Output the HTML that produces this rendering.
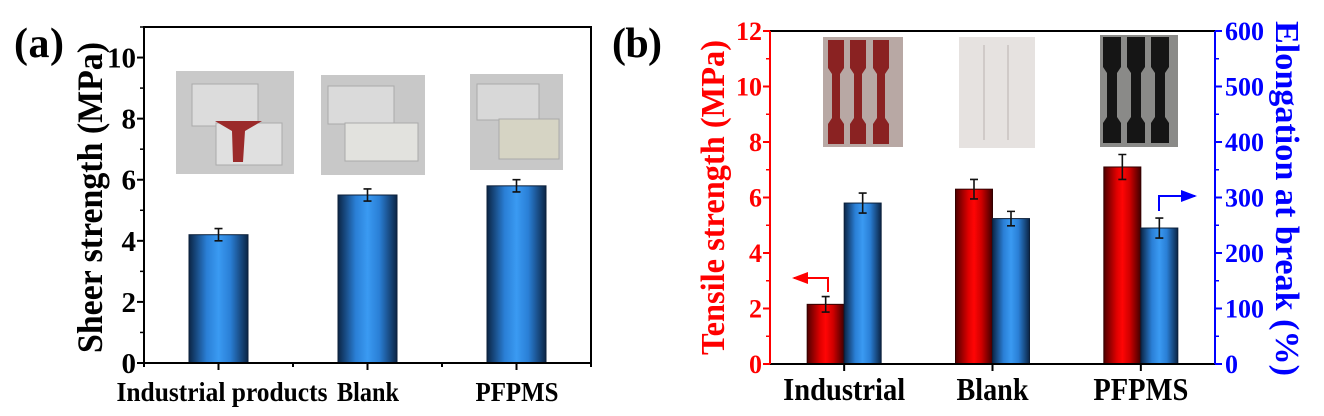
<!DOCTYPE html>
<html><head><meta charset="utf-8">
<style>
html,body{margin:0;padding:0;background:#fff;}
svg{display:block;}
text{font-family:"Liberation Serif",serif;font-weight:bold;}
</style></head>
<body>
<svg id="fig" width="1324" height="416" viewBox="0 0 1324 416" xmlns="http://www.w3.org/2000/svg">
<defs>
<linearGradient id="gBlue" x1="0" x2="1" y1="0" y2="0">
<stop offset="0" stop-color="#0b2546"/><stop offset="0.3" stop-color="#2a7fd6"/><stop offset="0.5" stop-color="#3a9af2"/><stop offset="0.7" stop-color="#2a7fd6"/><stop offset="1" stop-color="#0b2546"/>
</linearGradient>
<linearGradient id="gRed" x1="0" x2="1" y1="0" y2="0">
<stop offset="0" stop-color="#500000"/><stop offset="0.35" stop-color="#e00000"/><stop offset="0.5" stop-color="#ff0505"/><stop offset="0.7" stop-color="#d00000"/><stop offset="1" stop-color="#400000"/>
</linearGradient>
<marker id="arR" markerWidth="8" markerHeight="8" refX="7" refY="4" orient="auto"><path d="M0,1 L8,4 L0,7 Z" fill="#f00"/></marker>
<marker id="arB" markerWidth="8" markerHeight="8" refX="7" refY="4" orient="auto"><path d="M0,1 L8,4 L0,7 Z" fill="#00f"/></marker>
</defs>

<text x="14" y="57" font-size="42" textLength="50">(a)</text>
<g>
<rect x="176" y="71" width="118" height="103" fill="#c9c9c9"/>
<rect x="192" y="84" width="66" height="42" fill="#dcdcdc" stroke="#aaa"/>
<rect x="216" y="123" width="66" height="42" fill="#e0e0e0" stroke="#aaa"/>
<path d="M215,121 L262,121 L245,131 L243,162 L233,162 L232,131 Z" fill="#9b2a2a"/>
</g>
<g>
<rect x="321" y="75" width="104" height="100" fill="#c8c8c8"/>
<rect x="328" y="86" width="66" height="38" fill="#dadada" stroke="#aaa"/>
<rect x="345" y="123" width="73" height="38" fill="#e2e2de" stroke="#aaa"/>
</g>
<g>
<rect x="470" y="74" width="93" height="96" fill="#c8c8c8"/>
<rect x="477" y="84" width="62" height="36" fill="#d8d8d8" stroke="#aaa"/>
<rect x="499" y="119" width="60" height="40" fill="#d6d4c4" stroke="#aaa"/>
</g>
<g id="plotA"></g>

<text x="612" y="57" font-size="42" textLength="50">(b)</text>
<g>
<rect x="823" y="37" width="80" height="110" fill="#b8a8a4"/>
<path d="M828,40h16v28l-4,6v44l4,6v20h-16v-20l4,-6v-44l-4,-6z M850,40h16v28l-4,6v44l4,6v20h-16v-20l4,-6v-44l-4,-6z M873,40h16v28l-4,6v44l4,6v20h-16v-20l4,-6v-44l-4,-6z" fill="#8a2222"/>
</g>
<g>
<rect x="959" y="37" width="76" height="111" fill="#e6e2e0"/>
<path d="M984,45v95 M1008,45v95" stroke="#c8c2c0" stroke-width="1.5"/>
</g>
<g>
<rect x="1100" y="35" width="78" height="112" fill="#8a8a88"/>
<path d="M1103,37h18v30l-4,6v44l4,6v20h-18v-20l4,-6v-44l-4,-6z M1127,37h18v30l-4,6v44l4,6v20h-18v-20l4,-6v-44l-4,-6z M1151,37h18v30l-4,6v44l4,6v20h-18v-20l4,-6v-44l-4,-6z" fill="#151515"/>
</g>
<g id="plotB"></g>
</svg>

<script>
// ---- Panel a data ----
const catsA = ["Industrial products", "Blank", "PFPMS"];
const shearVals = [4.2, 5.5, 5.8];
const shearErr = [0.2, 0.2, 0.2];
const ticksA = [0, 2, 4, 6, 8, 10];

// ---- Panel b data ----
const catsB = ["Industrial", "Blank", "PFPMS"];
const tensileVals = [2.15, 6.3, 7.1];
const tensileErr = [0.28, 0.35, 0.45];
const elongVals = [290, 262, 245];
const elongErr = [18, 13, 18];
const ticksBL = [0, 2, 4, 6, 8, 10, 12];
const ticksBR = [0, 100, 200, 300, 400, 500, 600];

const NS = "http://www.w3.org/2000/svg";
function mk(tag, attrs, parent, txt) {
  const e = document.createElementNS(NS, tag);
  for (const k in attrs) e.setAttribute(k, attrs[k]);
  if (txt !== undefined) e.textContent = txt;
  parent.appendChild(e);
  return e;
}
function errBar(g, x, y1, y2, color) {
  const e = mk("path", {d: `M${x},${y1}V${y2}M${x-4},${y1}H${x+4}M${x-4},${y2}H${x+4}`, stroke: color, "stroke-width": 1.6, fill: "none"}, g);
  
  
}

// ---- Plot A ----
(function () {
  const g = document.getElementById("plotA");
  const L = 144, R = 591, T = 27, B = 363, yMax = 11;
  const y = v => B - v / yMax * (B - T);
  const step = (R - L) / catsA.length;
  const xc = i => L + step * (i + 0.5);
  const bw = 59;
  catsA.forEach((c, i) => {
    const r = mk("rect", {x: xc(i) - bw / 2, y: y(shearVals[i]), width: bw, height: B - y(shearVals[i]), fill: "url(#gBlue)", stroke: "#0b1f3a", "stroke-width": 1}, g);
    
    
    errBar(g, xc(i), y(shearVals[i] + shearErr[i]), y(shearVals[i] - shearErr[i]), "#111");
  });
  const ax = mk("rect", {x: L, y: T, width: R - L, height: B - T, fill: "none", stroke: "#000", "stroke-width": 2}, g);
  
  
  ticksA.forEach(t => {
    mk("line", {x1: L - 7, x2: L, y1: y(t), y2: y(t), stroke: "#000", "stroke-width": 2}, g);
    mk("line", {x1: L - 4, x2: L, y1: y(t + 1), y2: y(t + 1), stroke: "#000", "stroke-width": 1.5}, g);
    const tl = mk("text", {x: L - 8, y: y(t) + 10, "font-size": 29, "text-anchor": "end"}, g, t);
    
    
  });
  for (let i = 0; i <= catsA.length * 2; i++) {
    const xx = L + step / 2 * i;
    mk("line", {x1: xx, x2: xx, y1: B, y2: B + (i % 2 ? 7 : 4), stroke: "#000", "stroke-width": 2}, g);
  }
  const lblC = [222, 368, 517];
  const lblW = [211, 62, 83];
  catsA.forEach((c, i) => {
    const t = mk("text", {x: lblC[i] - lblW[i] / 2, y: 401, "font-size": 27, textLength: lblW[i], lengthAdjust: "spacingAndGlyphs"}, g, c);
    
    
  });
  const yt = mk("text", {x: -155, y: 0, "font-size": 36, textLength: 311, lengthAdjust: "spacingAndGlyphs", transform: `translate(102,198) rotate(-90)`}, g, "Sheer strength (MPa)");
  
  
})();

// ---- Plot B ----
(function () {
  const g = document.getElementById("plotB");
  const L = 770, R = 1215, T = 31, B = 364;
  const yl = v => B - v / 12 * (B - T);
  const yr = v => B - v / 600 * (B - T);
  const step = (R - L) / catsB.length;
  const xc = i => L + step * (i + 0.5);
  const bw = 37;
  catsB.forEach((c, i) => {
    const cx = xc(i);
    const r1 = mk("rect", {x: cx - bw, y: yl(tensileVals[i]), width: bw, height: B - yl(tensileVals[i]), fill: "url(#gRed)", stroke: "#300", "stroke-width": 1}, g);
    
    
    const r2 = mk("rect", {x: cx, y: yr(elongVals[i]), width: bw, height: B - yr(elongVals[i]), fill: "url(#gBlue)", stroke: "#0b1f3a", "stroke-width": 1}, g);
    
    
    errBar(g, cx - bw / 2, yl(tensileVals[i] + tensileErr[i]), yl(tensileVals[i] - tensileErr[i]), "#111");
    errBar(g, cx + bw / 2, yr(elongVals[i] + elongErr[i]), yr(elongVals[i] - elongErr[i]), "#111");
  });
  mk("line", {x1: L, x2: R, y1: T, y2: T, stroke: "#000", "stroke-width": 2}, g);
  mk("line", {x1: L, x2: R, y1: B, y2: B, stroke: "#000", "stroke-width": 2}, g);
  const la = mk("line", {x1: L, x2: L, y1: T, y2: B, stroke: "#f00", "stroke-width": 2}, g);
  
  
  const ra = mk("line", {x1: R, x2: R, y1: T, y2: B, stroke: "#00f", "stroke-width": 2}, g);
  
  
  ticksBL.forEach(t => {
    mk("line", {x1: L - 7, x2: L, y1: yl(t), y2: yl(t), stroke: "#f00", "stroke-width": 2}, g);
    if (t < 12) mk("line", {x1: L - 4, x2: L, y1: yl(t + 1), y2: yl(t + 1), stroke: "#f00", "stroke-width": 1.5}, g);
    const tl = mk("text", {x: L - 8, y: yl(t) + 9, "font-size": 26, "text-anchor": "end", fill: "#f00"}, g, t);
    
    
  });
  ticksBR.forEach(t => {
    mk("line", {x1: R, x2: R + 7, y1: yr(t), y2: yr(t), stroke: "#00f", "stroke-width": 2}, g);
    if (t < 600) mk("line", {x1: R, x2: R + 4, y1: yr(t + 50), y2: yr(t + 50), stroke: "#00f", "stroke-width": 1.5}, g);
    const tl = mk("text", {x: R + 10, y: yr(t) + 9, "font-size": 26, fill: "#00f"}, g, t);
    
    
  });
  for (let i = 0; i < catsB.length; i++) {
    mk("line", {x1: xc(i), x2: xc(i), y1: B, y2: B + 7, stroke: "#000", "stroke-width": 2}, g);
  }
  const lblW = [122, 72, 95];
  catsB.forEach((c, i) => {
    const t = mk("text", {x: xc(i) - lblW[i] / 2, y: 400, "font-size": 32, textLength: lblW[i], lengthAdjust: "spacingAndGlyphs"}, g, c);
    
    
  });
  const ytl = mk("text", {x: -157, y: 0, "font-size": 34, fill: "#f00", textLength: 315, lengthAdjust: "spacingAndGlyphs", transform: `translate(724,198) rotate(-90)`}, g, "Tensile strength (MPa)");
  
  
  const ytr = mk("text", {x: -177, y: 0, "font-size": 34, fill: "#00f", textLength: 355, lengthAdjust: "spacingAndGlyphs", transform: `translate(1276,198) rotate(90)`}, g, "Elongation at break (%)");
  
  
  const a1 = mk("path", {d: "M828,292V278H794", stroke: "#f00", "stroke-width": 2, fill: "none", "marker-end": "url(#arR)"}, g);
  
  
  const a2 = mk("path", {d: "M1159,211V196H1195", stroke: "#00f", "stroke-width": 2, fill: "none", "marker-end": "url(#arB)"}, g);
  
  
})();
</script>
</body></html>
